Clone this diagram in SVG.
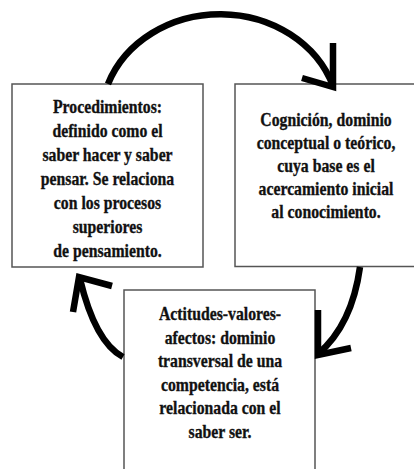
<svg xmlns="http://www.w3.org/2000/svg" width="414" height="469" viewBox="0 0 414 469">
<style>
.box{fill:#fff;stroke:#555;stroke-width:1.5}
text{font-family:'Liberation Serif','DejaVu Serif',serif;font-weight:700;font-size:19px;fill:#111;text-anchor:middle;stroke:#111;stroke-width:0.35}
.arc{fill:none;stroke:#000;stroke-width:6.5}
.head{fill:none;stroke:#000;stroke-width:6.5;stroke-linecap:butt;stroke-linejoin:miter}
</style>
<rect width="414" height="469" fill="#fff"/>
<g id="node-procedimientos">
<rect class="box" x="12" y="84" width="191" height="183"/>
<g transform="translate(107.5 0) scale(0.83 1)">
<text x="0" y="113">Procedimientos:</text>
<text x="0" y="137">definido como el</text>
<text x="0" y="161">saber hacer y saber</text>
<text x="0" y="185">pensar. Se relaciona</text>
<text x="0" y="209">con los procesos</text>
<text x="0" y="233">superiores</text>
<text x="0" y="257">de pensamiento.</text>
</g>
</g>
<g id="node-cognicion">
<rect class="box" x="235" y="84" width="190" height="182.5"/>
<g transform="translate(326 0) scale(0.83 1)">
<text x="0" y="126">Cognición, dominio</text>
<text x="0" y="149">conceptual o teórico,</text>
<text x="0" y="172">cuya base es el</text>
<text x="0" y="195">acercamiento inicial</text>
<text x="0" y="218">al conocimiento.</text>
</g>
</g>
<g id="node-actitudes">
<rect class="box" x="124" y="290" width="191" height="200"/>
<g transform="translate(220 0) scale(0.83 1)">
<text x="0" y="320">Actitudes-valores-</text>
<text x="0" y="343.6">afectos: dominio</text>
<text x="0" y="367.2">transversal de una</text>
<text x="0" y="390.8">competencia, está</text>
<text x="0" y="414.4">relacionada con el</text>
<text x="0" y="438">saber ser.</text>
</g>
</g>
<g id="connectors">
<path class="arc" d="M108,84 A119,105 0 0 1 333,86"/>
<path class="head" d="M333,43 L333,87 L302,78"/>
<path class="arc" d="M360,267 Q352,325 318,354"/>
<path class="head" d="M318,310 L318,355 L351,348"/>
<path class="arc" d="M123,357 Q95,342 80,279"/>
<path class="head" d="M73,312 L79,277 L112,286"/>
</g>
</svg>
